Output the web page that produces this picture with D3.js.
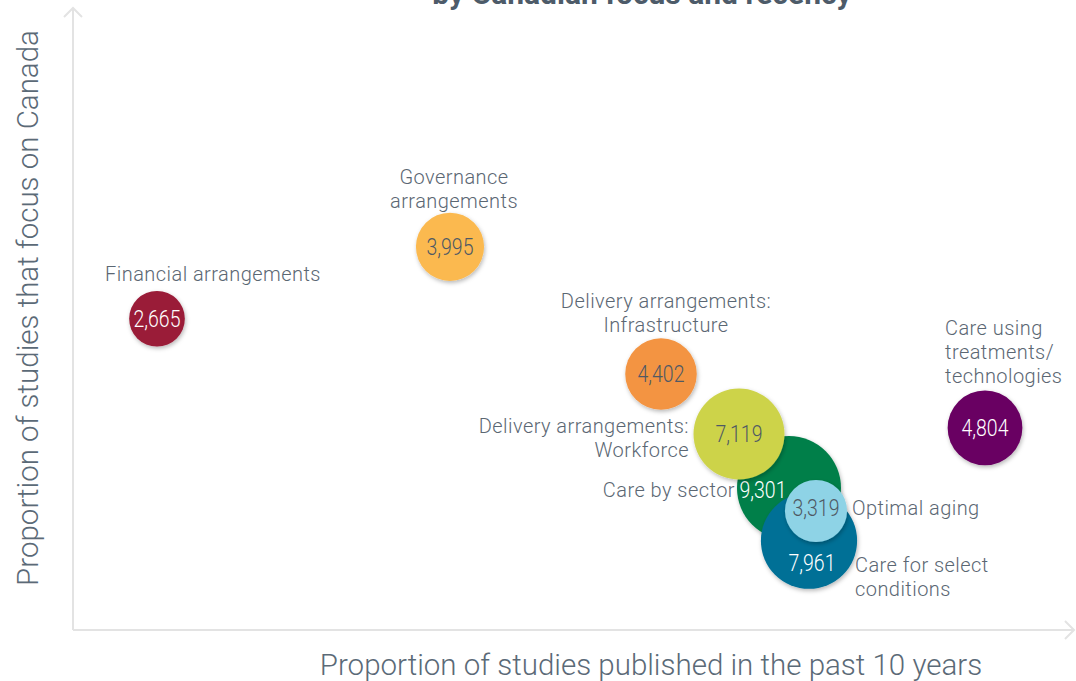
<!DOCTYPE html>
<html lang="en">
<head>
<meta charset="UTF-8">
<title>Studies by Canadian focus and recency</title>
<script src="https://d3js.org/d3.v7.min.js"></script>
<style>
    body { margin: 0; background: #fff; }
    svg { display: block; }
    .lbl { font-family: Roboto, "Noto Sans", sans-serif; font-weight: 300; font-size: 20px; letter-spacing: 0.45px; fill: #5b6773; }
    .num { font-family: Roboto, "Noto Sans", sans-serif; font-weight: 300; font-size: 23px; }
    .axis-title { font-family: Roboto, "Noto Sans", sans-serif; font-weight: 300; font-size: 29.5px; fill: #5b6a77; }
</style>
</head>
<body>
<svg width="1076" height="681"></svg>
<script>
    // categories, drawn in this order (later ones sit on top)
    let categories = ["Governance arrangements", "Financial arrangements", "Delivery arrangements: Infrastructure",
        "Care by sector", "Delivery arrangements: Workforce", "Care for select conditions", "Optimal aging",
        "Care using treatments/technologies"];
    let recency = [37.7, 8.4, 58.8, 71.6, 66.6, 73.6, 74.3, 91.2];      // % published in past 10 years
    let canadianFocus = [61.8, 50.2, 41.3, 22.9, 31.6, 14.4, 19.2, 32.6]; // % focusing on Canada
    let studyCounts = [3995, 2665, 4402, 9301, 7119, 7961, 3319, 4804];
    let colors = ["#fbb94f", "#9a1b37", "#f39442", "#007f4a", "#cdd34a", "#006f96", "#8ed3e6", "#690062"];
    let numColors = ["#4f5964", "#fff", "#4f5964", "#fff", "#4f5964", "#fff", "#4f5964", "#fff"];
    // label lines, anchor and offset from bubble centre
    let labelLines = [["Governance", "arrangements"], ["Financial arrangements"], ["Delivery arrangements:", "Infrastructure"],
        ["Care by sector"], ["Delivery arrangements:", "Workforce"], ["Care for select", "conditions"], ["Optimal aging"],
        ["Care using", "treatments/", "technologies"]];
    let labelAnchor = ["middle", "middle", "middle", "end", "end", "start", "start", "start"];
    let labelDx = [4, 56, 5, -54, -50, 46, 36, -40];
    let labelDy = [-63, -38, -66, 9, -1, 31, 4, -93];

    let svg = d3.select("svg");
    let margin = { left: 73, right: 3, top: 10, bottom: 51 };
    let W = 1076, H = 681;

    let x = d3.scaleLinear().domain([0, 100]).range([margin.left, W - margin.right]);
    let y = d3.scaleLinear().domain([0, 100]).range([H - margin.bottom, margin.top]);
    let r = d3.scaleSqrt().domain([0, d3.max(studyCounts)]).range([0, 52]);

    let defs = svg.append("defs");
    defs.append("filter").attr("id", "shadow")
        .attr("x", "-30%").attr("y", "-30%").attr("width", "160%").attr("height", "160%")
        .append("feDropShadow")
        .attr("dx", 1).attr("dy", 2).attr("stdDeviation", 2)
        .attr("flood-color", "#000").attr("flood-opacity", 0.28);

    // title, mostly cut off at the top of the picture
    svg.append("text")
        .attr("x", 642).attr("y", 4)
        .attr("text-anchor", "middle")
        .attr("font-family", "Roboto, sans-serif")
        .attr("font-weight", 700)
        .attr("font-size", 30)
        .attr("fill", "#4d5b69")
        .text("by Canadian focus and recency");

    // axes with arrow heads
    let axisColor = "#e3e3e3";
    let x0 = x(0), y0 = y(0);
    let axes = svg.append("g").attr("fill", "none").attr("stroke", axisColor).attr("stroke-width", 2);
    axes.append("line").attr("x1", x0).attr("y1", y0).attr("x2", x0).attr("y2", 8);
    axes.append("path").attr("d", `M${x0 - 9},${17} L${x0},${8} L${x0 + 9},${17}`);
    axes.append("line").attr("x1", x0).attr("y1", y0).attr("x2", W - 2).attr("y2", y0);
    axes.append("path").attr("d", `M${W - 11},${y0 - 9} L${W - 2},${y0} L${W - 11},${y0 + 9}`);

    svg.append("text").attr("class", "axis-title")
        .attr("x", 651).attr("y", 675)
        .attr("text-anchor", "middle")
        .text("Proportion of studies published in the past 10 years");

    svg.append("text").attr("class", "axis-title")
        .attr("transform", "translate(38,308) rotate(-90)")
        .attr("text-anchor", "middle")
        .text("Proportion of studies that focus on Canada");

    let data = categories.map((c, i) => ({
        name: c, x: recency[i], y: canadianFocus[i], n: studyCounts[i],
        color: colors[i], numColor: numColors[i],
        lines: labelLines[i], anchor: labelAnchor[i], dx: labelDx[i], dy: labelDy[i]
    }));

    let bubbles = svg.append("g");
    let node = bubbles.selectAll("g").data(data).join("g")
        .attr("transform", d => `translate(${x(d.x)},${y(d.y)})`);

    node.append("circle")
        .attr("r", d => r(d.n))
        .attr("fill", d => d.color)
        .attr("filter", "url(#shadow)");

    node.append("text").attr("class", "num")
        .attr("text-anchor", "middle")
        .attr("dy", "0.36em")
        .attr("textLength", 47)
        .attr("lengthAdjust", "spacingAndGlyphs")
        .attr("fill", d => d.numColor)
        .text(d => d3.format(",")(d.n));

    // some numbers are pushed off centre where bubbles overlap
    node.filter(d => d.name == "Care for select conditions").select(".num").attr("x", 3).attr("y", 22);
    node.filter(d => d.name == "Care by sector").select(".num").attr("x", -26).attr("y", 2);
    node.filter(d => d.name == "Optimal aging").select(".num").attr("y", -3);

    let labels = svg.append("g");
    data.forEach(d => {
        let t = labels.append("text").attr("class", "lbl")
            .attr("text-anchor", d.anchor)
            .attr("transform", `translate(${x(d.x) + d.dx},${y(d.y) + d.dy})`);
        d.lines.forEach((l, k) => {
            t.append("tspan").attr("x", 0).attr("y", k * 24).text(l);
        });
    });
</script>
</body>
</html>
